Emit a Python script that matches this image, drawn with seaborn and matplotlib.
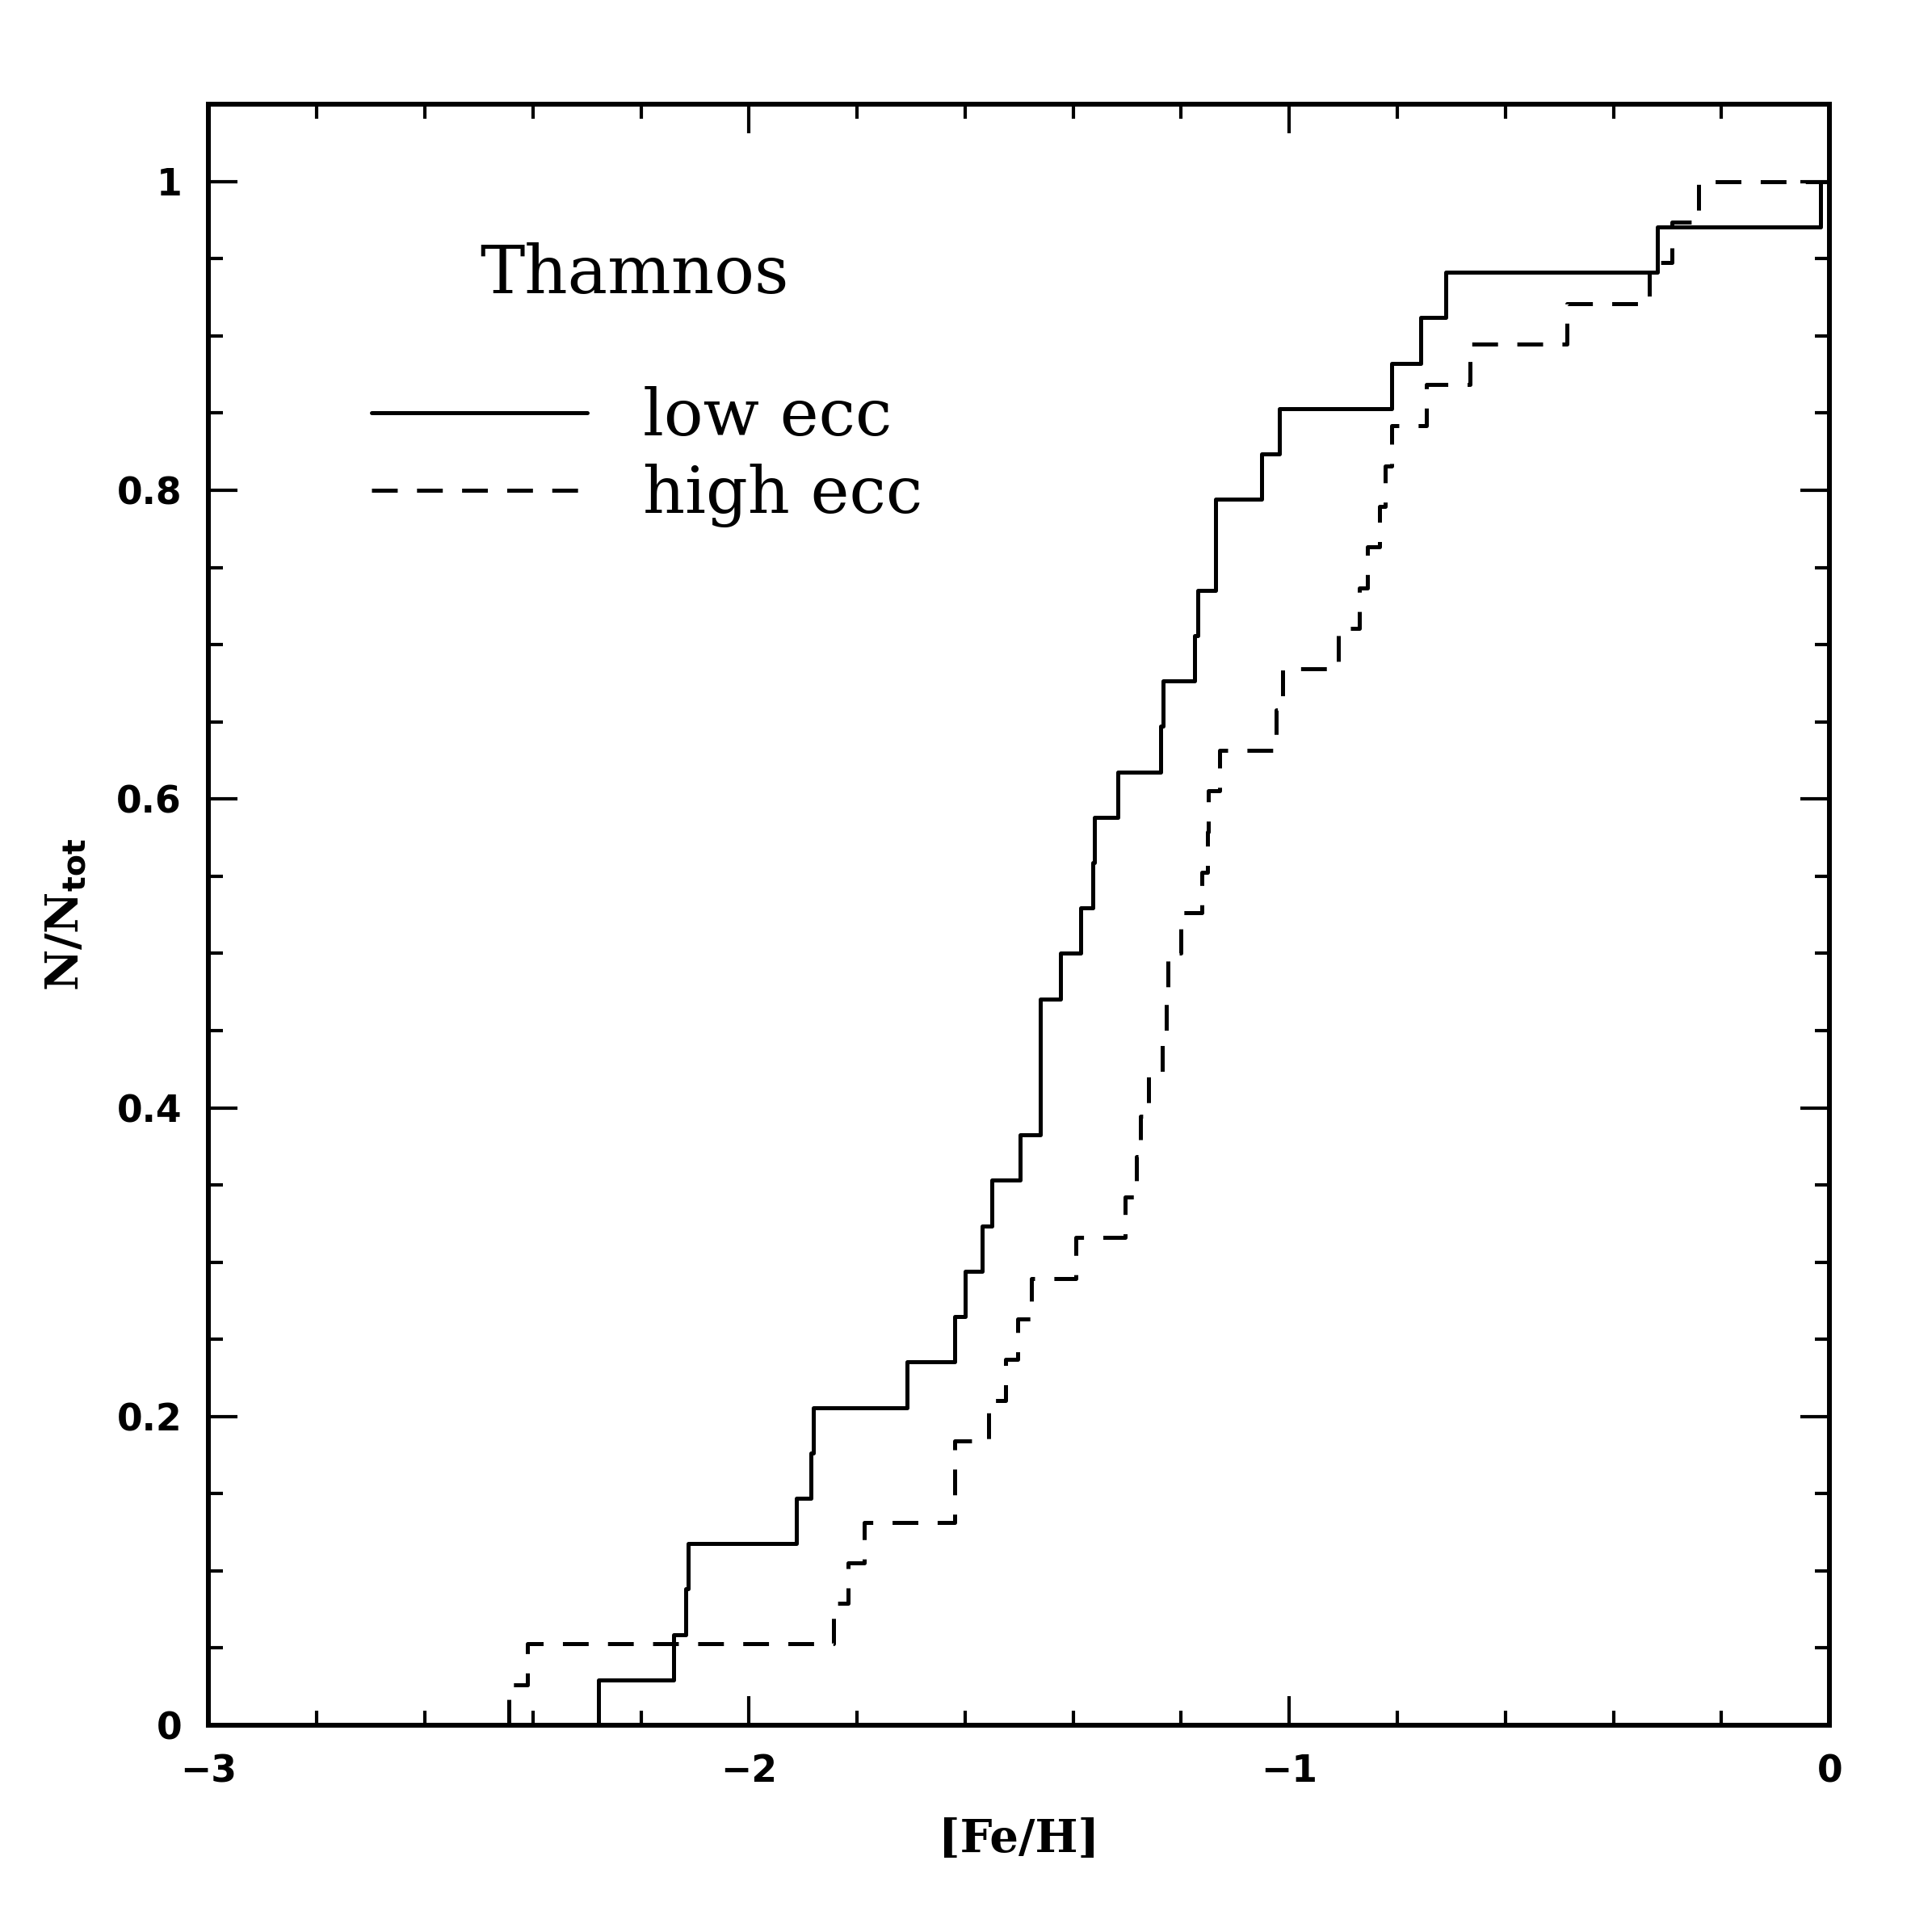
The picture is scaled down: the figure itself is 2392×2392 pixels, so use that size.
import numpy as np
import matplotlib
matplotlib.use('Agg')
import matplotlib.pyplot as plt
from matplotlib.ticker import MultipleLocator, FixedLocator, FixedFormatter
import seaborn as sns

# [Fe/H] values (read from the cumulative steps)
feh_low = [-2.279, -2.139, -2.117, -2.112, -1.912, -1.885, -1.881, -1.708,
           -1.619, -1.600, -1.569, -1.550, -1.498, -1.461, -1.461, -1.461,
           -1.423, -1.386, -1.363, -1.361, -1.318, -1.238, -1.234, -1.176,
           -1.170, -1.136, -1.136, -1.051, -1.019, -0.810, -0.757, -0.711,
           -0.318, -0.017]
feh_high = [-2.445, -2.410, -1.844, -1.817, -1.786, -1.619, -1.619, -1.557,
            -1.525, -1.503, -1.477, -1.395, -1.304, -1.283, -1.276, -1.261,
            -1.235, -1.228, -1.224, -1.200, -1.162, -1.151, -1.150, -1.129,
            -1.024, -1.012, -0.909, -0.870, -0.855, -0.833, -0.822, -0.811,
            -0.746, -0.666, -0.486, -0.334, -0.292, -0.242]

groups = ['low ecc', 'high ecc']
title_text = 'Thamnos'
xticks = [-3, -2, -1, 0]
xticklabels = ['\u22123', '\u22122', '\u22121', '0']
yticks = [0, 0.2, 0.4, 0.6, 0.8, 1.0]
yticklabels = ['0', '0.2', '0.4', '0.6', '0.8', '1']
xlim = (-3, 0)
ylim = (0, 1.05)

sns.set_style('ticks')
plt.rcParams['axes.linewidth'] = 1.45
plt.rcParams['axes.edgecolor'] = 'black'
plt.rcParams['text.color'] = 'black'
plt.rcParams['axes.labelcolor'] = 'black'
plt.rcParams['xtick.color'] = 'black'
plt.rcParams['ytick.color'] = 'black'

fig = plt.figure(figsize=(8, 8), dpi=299)
ax = fig.add_axes([0.108, 0.107, 0.839, 0.839])


def cum_steps(vals, xend):
    v = np.sort(np.asarray(vals, dtype=float))
    n = len(v)
    xs = np.r_[v[0], v, xend]
    ys = np.r_[0.0, np.arange(1, n + 1) / n, 1.0]
    return xs, ys


# 累积分布，阶梯线
x1, y1 = cum_steps(feh_low, xlim[1])
sns.lineplot(x=x1, y=y1, estimator=None, sort=False, drawstyle='steps-post',
             color='black', lw=1.2, label=groups[0], ax=ax)
x2, y2 = cum_steps(feh_high, xlim[1])
sns.lineplot(x=x2, y=y2, estimator=None, sort=False, drawstyle='steps-post',
             color='black', lw=1.2, linestyle=(0, (6.4, 4.8)),
             label=groups[1], ax=ax)

ax.set_xlim(*xlim)
ax.set_ylim(*ylim)

ax.xaxis.set_major_locator(FixedLocator(xticks))
ax.xaxis.set_major_formatter(FixedFormatter(xticklabels))
ax.xaxis.set_minor_locator(MultipleLocator(0.2))
ax.yaxis.set_major_locator(FixedLocator(yticks))
ax.yaxis.set_major_formatter(FixedFormatter(yticklabels))
ax.yaxis.set_minor_locator(MultipleLocator(0.05))

ax.tick_params(which='both', direction='in', top=True, right=True,
               color='black', labelcolor='black', width=1.0)
ax.tick_params(which='major', length=8.7)
ax.tick_params(which='minor', length=4.3)
ax.tick_params(axis='x', which='major', pad=8.5)
ax.tick_params(axis='y', which='major', pad=8)
for lab in ax.get_xticklabels() + ax.get_yticklabels():
    lab.set_fontfamily('DejaVu Sans')
    lab.set_fontweight('bold')
    lab.set_fontsize(11)

ax.set_xlabel('[Fe/H]', family='DejaVu Serif', fontweight='bold',
              fontsize=13.5, labelpad=8, color='black')
ax.set_ylabel(r'N/N$_{\mathbf{tot}}$', family='DejaVu Serif',
              fontweight='bold', fontsize=13.5, labelpad=8.5, color='black')

ax.text(0.1673, 0.8837, title_text, transform=ax.transAxes, color='black',
        family='DejaVu Serif', fontsize=20, ha='left', va='baseline')

leg = ax.legend(loc='upper left', bbox_to_anchor=(0.1004, 0.826),
                frameon=False, borderpad=0, borderaxespad=0,
                handlelength=3.3, handletextpad=0.85, labelspacing=0.22,
                prop={'family': 'DejaVu Serif', 'size': 19.5})
for t in leg.get_texts():
    t.set_color('black')

fig.savefig('out.png', dpi=299, facecolor='white')
